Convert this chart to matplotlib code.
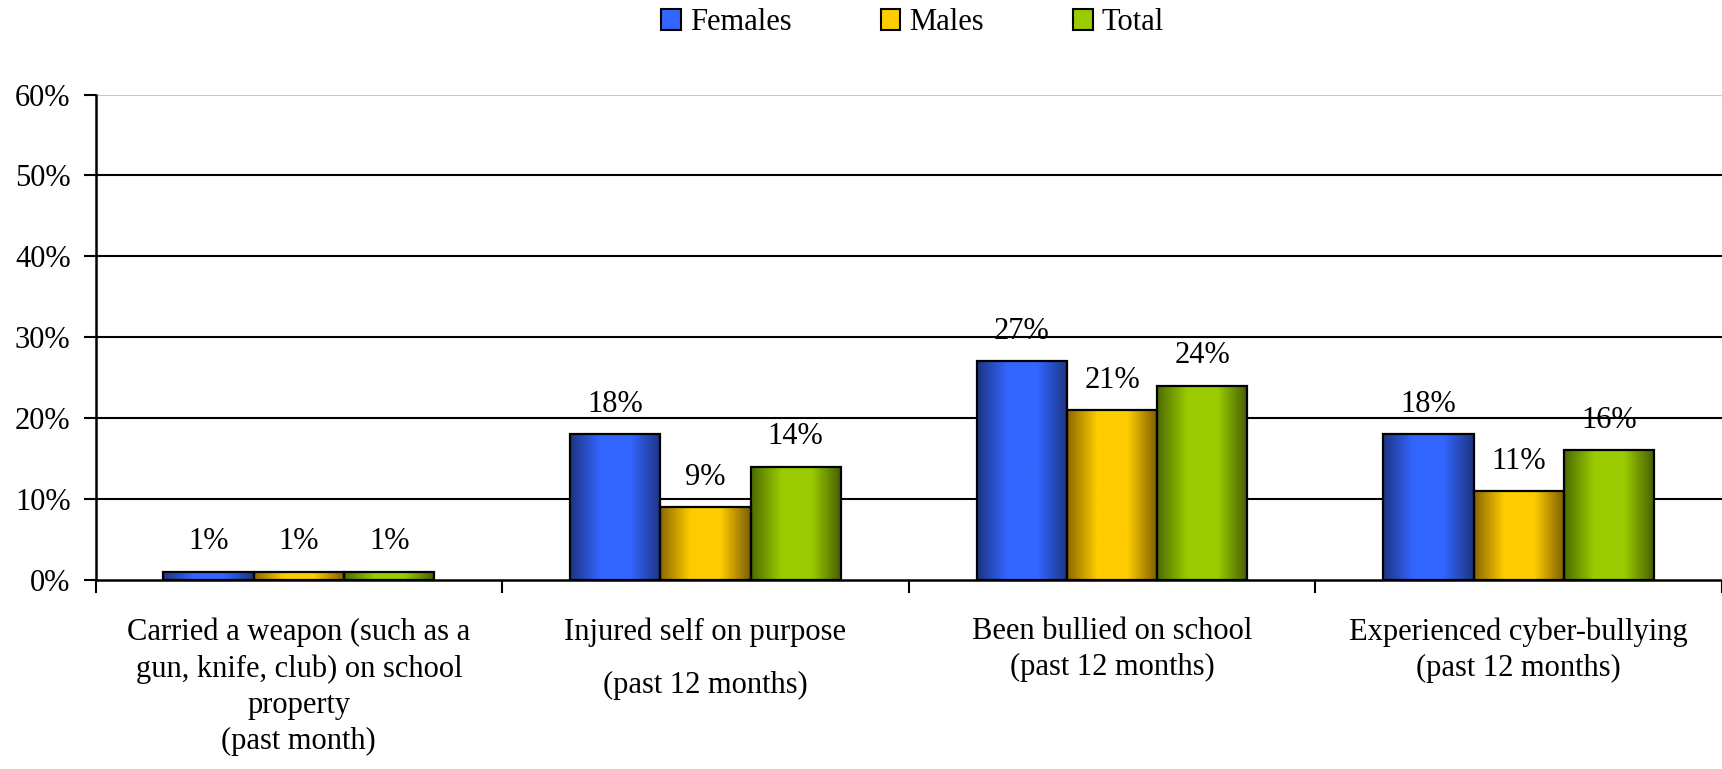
import matplotlib
matplotlib.use('Agg')
import matplotlib.pyplot as plt
import numpy as np
from matplotlib.colors import LinearSegmentedColormap
from matplotlib.patches import Patch
from matplotlib.ticker import PercentFormatter

# Data
categories = [
    'Carried a weapon (such as a\ngun, knife, club) on school\nproperty\n(past month)',
    'Injured self on purpose\n(past 12 months)',
    'Been bullied on school\n(past 12 months)',
    'Experienced cyber-bullying\n(past 12 months)',
]
series_names = ['Females', 'Males', 'Total']
females = [0.01, 0.18, 0.27, 0.18]
males = [0.01, 0.09, 0.21, 0.11]
total = [0.01, 0.14, 0.24, 0.16]
y_ticks = [0.0, 0.1, 0.2, 0.3, 0.4, 0.5, 0.6]

# gradient colours (edge dark -> centre light -> edge dark)
GRADIENTS = {
    'Females': ['#1c3480', '#3366ff', '#3366ff', '#1c3480'],
    'Males': ['#8a6800', '#ffcc00', '#ffcc00', '#7a5c00'],
    'Total': ['#4d6b00', '#99cc00', '#99cc00', '#465c00'],
}
FLAT = {'Females': '#3366ff', 'Males': '#ffcc00', 'Total': '#99cc00'}

FS = 22
plt.rcParams['font.family'] = ['Liberation Serif', 'DejaVu Serif']
plt.rcParams['font.size'] = FS

fig = plt.figure(figsize=(17.22, 7.69), dpi=100)
ax = fig.add_axes([0.0555, 0.246, 0.9445, 0.631])

bar_w = 0.222
x = np.arange(len(categories))
all_vals = [females, males, total]

for k, (name, vals) in enumerate(zip(series_names, all_vals)):
    cmap = LinearSegmentedColormap.from_list(name, GRADIENTS[name])
    grad = np.linspace(0, 1, 256).reshape(1, -1)
    offs = (k - 1) * bar_w
    bars = ax.bar(x + offs, vals, width=bar_w, color='none',
                  edgecolor='black', linewidth=1.6, zorder=4)
    for b, v in zip(bars, vals):
        x0 = b.get_x()
        im = ax.imshow(grad, cmap=cmap, aspect='auto',
                       extent=[x0, x0 + bar_w, 0, v], zorder=3)
        im.set_clip_path(b)
        ax.annotate(f'{v * 100:.0f}%', (b.get_x() + bar_w / 2, v),
                    xytext=(0, 11), textcoords='offset points',
                    ha='center', va='bottom', fontsize=FS, zorder=5)

# horizontal gridlines
for t in y_ticks[1:]:
    ax.axhline(t, color='#c8c8c8' if t == y_ticks[-1] else 'black',
               linewidth=1.5, zorder=1)

ax.set_xlim(-0.5, len(categories) - 0.5)
ax.set_ylim(0, 0.6)
ax.set_yticks(y_ticks)
ax.yaxis.set_major_formatter(PercentFormatter(1.0, decimals=0))

ax.set_xticks(x)
ax.set_xticklabels(categories)
ax.set_xticks(np.arange(len(categories) + 1) - 0.5, minor=True)
ax.tick_params(axis='x', which='major', length=0, pad=27)
ax.tick_params(axis='x', which='minor', length=9, width=1.5, direction='out')
ax.tick_params(axis='y', length=9, width=1.5, direction='out', pad=9)
for lbl in ax.get_xticklabels():
    lbl.set_linespacing(1.32)
ax.get_xticklabels()[1].set_linespacing(2.1)

for s in ['top', 'right']:
    ax.spines[s].set_visible(False)
for s in ['left', 'bottom']:
    ax.spines[s].set_linewidth(1.8)
    ax.spines[s].set_zorder(6)

handles = [Patch(facecolor=FLAT[n], edgecolor='black', linewidth=1.5)
           for n in series_names]
fig.legend(handles, series_names, loc='upper center', ncol=3,
           bbox_to_anchor=(0.53, 1.025), frameon=False, fontsize=FS,
           handlelength=0.65, handleheight=0.65, handletextpad=0.3,
           columnspacing=2.9)

plt.savefig('out.png', dpi=100)
